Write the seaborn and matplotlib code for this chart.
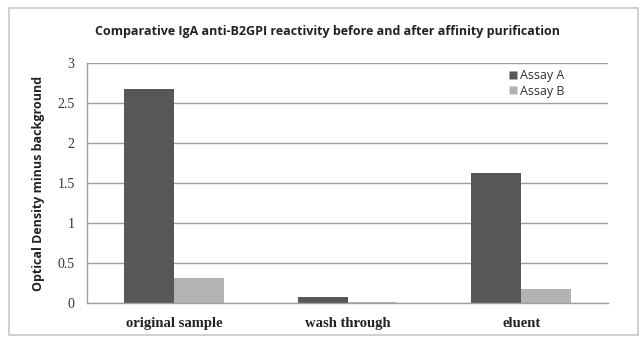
import matplotlib
matplotlib.use("Agg")
import matplotlib.pyplot as plt
import seaborn as sns
import pandas as pd
from matplotlib.patches import Rectangle
from matplotlib.lines import Line2D

categories = ["original sample", "wash through", "eluent"]
assay_a = [2.67, 0.075, 1.62]
assay_b = [0.31, 0.01, 0.17]
series = ["Assay A", "Assay B"]
yticks = [0, 0.5, 1, 1.5, 2, 2.5, 3]
ytick_labels = ["0", "0.5", "1", "1.5", "2", "2.5", "3"]

df = pd.DataFrame({
    "category": categories * 2,
    "value": assay_a + assay_b,
    "series": [series[0]] * 3 + [series[1]] * 3,
})

sns.set_theme(style="white")
fig = plt.figure(figsize=(6.42, 3.37), dpi=100)
ax = fig.add_axes([87/642, 1 - 303/337, (608-87)/642, (303-63)/337])

sns.barplot(data=df, x="category", y="value", hue="series", order=categories,
            hue_order=series, palette=["#575757", "#b3b3b3"], width=0.575,
            gap=0, saturation=1, ax=ax, legend=False, edgecolor="none")

ax.set_ylim(0, 3)
ax.set_xlim(-0.5, 2.5)
ax.set_yticks(yticks)
ax.set_yticklabels(ytick_labels, family="Liberation Serif", fontsize=10, color="#333333")
ax.set_xticklabels(categories, family="Liberation Serif", fontsize=10.5,
                   fontweight="bold", color="#222222")
ax.tick_params(axis="y", length=0, pad=9)
ax.tick_params(axis="x", length=0, pad=10)
ax.set_xlabel("")
ax.set_ylabel("Optical Density minus background", family="Open Sans",
              fontweight="bold", fontsize=9, color="#222222", labelpad=9)
ax.yaxis.grid(True, color="#a0a0a0", linewidth=1)
ax.set_axisbelow(True)
for s in ["top", "right"]:
    ax.spines[s].set_visible(False)
for s in ["left", "bottom"]:
    ax.spines[s].set_color("#a0a0a0")
    ax.spines[s].set_linewidth(1)

fig.text(328/642, 1 - 31/337,
         "Comparative IgA anti-B2GPI reactivity before and after affinity purification",
         ha="center", va="center", family="Open Sans", fontweight="bold",
         fontsize=9, color="#222222")

handles = [Line2D([], [], marker="s", linestyle="none", markersize=6,
                  markerfacecolor=c, markeredgecolor="none")
           for c in ["#575757", "#b3b3b3"]]
fig.legend(handles, series, loc="upper left", bbox_to_anchor=(497/642, 1 - 58/337),
           frameon=False, prop={"family": "Open Sans", "size": 9},
           handletextpad=0.1, labelspacing=0.2, handlelength=0.8,
           labelcolor="#333333")

fig.patches.append(Rectangle((9/642, 2/337), (638-9)/642, (327)/337,
                             transform=fig.transFigure, fill=False,
                             edgecolor="#c8c8c8", linewidth=1.2))

fig.savefig("out.png", dpi=100)
